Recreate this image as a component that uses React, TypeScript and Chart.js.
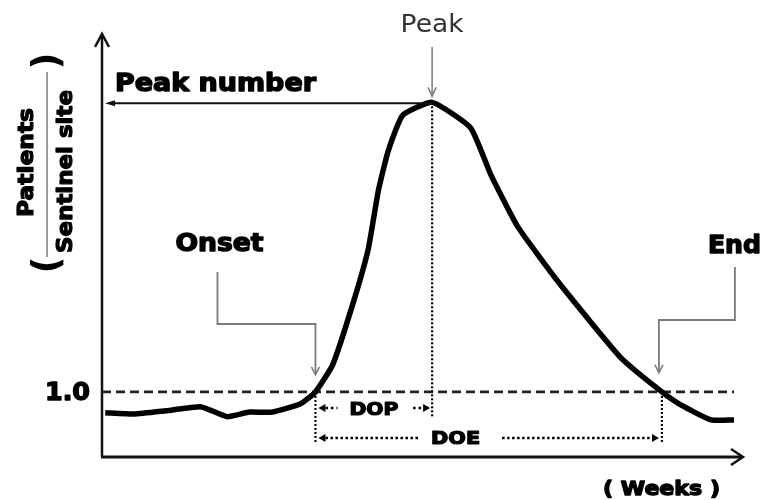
import React, { useEffect, useRef } from "react";
import { Chart, registerables } from "chart.js";

Chart.register(...registerables);

// ---- data ----
const weeks = [0.1, 1.0, 2.0, 3.1, 3.9, 4.6, 5.3, 6.2, 6.66, 7.2, 7.8, 8.3, 8.63, 8.94, 9.38, 10.3, 11.5, 12.13, 12.97, 14.3, 16.2, 17.47, 18.06, 19.0, 19.72];
const patients = [0.68, 0.66, 0.71, 0.77, 0.62, 0.69, 0.69, 0.82, 1.0, 1.42, 2.31, 3.18, 4.11, 4.72, 5.25, 5.45, 5.06, 4.34, 3.54, 2.65, 1.52, 1.0, 0.8, 0.57, 0.57];
const threshold = 1.0;
const thresholdLabel = "1.0";
const xAxisLabel = "( Weeks )";
const yNumerator = "Patients";
const yDenominator = "Sentinel site";
const peakLabel = "Peak";
const peakNumberLabel = "Peak number";
const onsetLabel = "Onset";
const endLabel = "End";
const dopLabel = "DOP";
const doeLabel = "DOE";

const BOLD = "bold";
const FAMILY = '"DejaVu Sans", "Liberation Sans", Arial, sans-serif';

function fitText(ctx: CanvasRenderingContext2D, text: string, x: number, y: number, size: number, weight: string, width: number, align: "left" | "center" | "right", color = "#000", heavy = 0) {
  ctx.save();
  ctx.font = `${weight} ${size}px ${FAMILY}`;
  ctx.fillStyle = color;
  ctx.strokeStyle = color;
  ctx.textBaseline = "alphabetic";
  ctx.textAlign = "left";
  const m = ctx.measureText(text).width;
  const sx = width / m;
  let left = x;
  if (align === "center") left = x - width / 2;
  if (align === "right") left = x - width;
  ctx.translate(left, y);
  ctx.scale(sx, 1);
  ctx.fillText(text, 0, 0);
  if (heavy > 0) {
    ctx.lineWidth = heavy;
    ctx.lineJoin = "round";
    ctx.strokeText(text, 0, 0);
  }
  ctx.restore();
}

function rotText(ctx: CanvasRenderingContext2D, text: string, baseX: number, centerY: number, size: number, length: number | null, heavy = 0) {
  ctx.save();
  ctx.font = `bold ${size}px ${FAMILY}`;
  ctx.fillStyle = "#000";
  ctx.strokeStyle = "#000";
  ctx.textAlign = "center";
  ctx.textBaseline = "alphabetic";
  ctx.translate(baseX, centerY);
  ctx.rotate(-Math.PI / 2);
  if (length) {
    const m = ctx.measureText(text).width;
    ctx.scale(length / m, 1);
  }
  ctx.fillText(text, 0, 0);
  if (heavy > 0) {
    ctx.lineWidth = heavy;
    ctx.lineJoin = "round";
    ctx.strokeText(text, 0, 0);
  }
  ctx.restore();
}

function line(ctx: CanvasRenderingContext2D, pts: number[][], color: string, w: number, dash: number[] = []) {
  ctx.save();
  ctx.strokeStyle = color;
  ctx.lineWidth = w;
  ctx.setLineDash(dash);
  ctx.lineCap = "butt";
  ctx.lineJoin = "miter";
  ctx.beginPath();
  pts.forEach((p, i) => (i ? ctx.lineTo(p[0], p[1]) : ctx.moveTo(p[0], p[1])));
  ctx.stroke();
  ctx.restore();
}

function openHead(ctx: CanvasRenderingContext2D, tx: number, ty: number, dx: number, dy: number, len: number, half: number, color: string, w: number) {
  const bx = tx - dx * len, by = ty - dy * len;
  const nx = -dy, ny = dx;
  line(ctx, [[bx + nx * half, by + ny * half], [tx, ty], [bx - nx * half, by - ny * half]], color, w);
}

function filledHead(ctx: CanvasRenderingContext2D, tx: number, ty: number, dx: number, dy: number, len: number, half: number, color: string) {
  const bx = tx - dx * len, by = ty - dy * len;
  const nx = -dy, ny = dx;
  ctx.save();
  ctx.fillStyle = color;
  ctx.beginPath();
  ctx.moveTo(tx, ty);
  ctx.lineTo(bx + nx * half, by + ny * half);
  ctx.lineTo(bx - nx * half, by - ny * half);
  ctx.closePath();
  ctx.fill();
  ctx.restore();
}

function crossings() {
  let pi = 0;
  patients.forEach((v, i) => { if (v > patients[pi]) pi = i; });
  let onset = weeks[0], end = weeks[weeks.length - 1];
  for (let i = 0; i < pi; i++) {
    if (patients[i] < threshold && patients[i + 1] >= threshold) {
      const t = (threshold - patients[i]) / (patients[i + 1] - patients[i]);
      onset = weeks[i] + t * (weeks[i + 1] - weeks[i]);
      break;
    }
  }
  for (let i = pi; i < patients.length - 1; i++) {
    if (patients[i] >= threshold && patients[i + 1] < threshold) {
      const t = (patients[i] - threshold) / (patients[i] - patients[i + 1]);
      end = weeks[i] + t * (weeks[i + 1] - weeks[i]);
      break;
    }
  }
  return { pi, onset, end };
}

const annotations = {
  id: "epiAnnotations",
  beforeDatasetsDraw(chart: any) {
    const { ctx, chartArea: ca, scales } = chart;
    const x = scales.x, y = scales.y;
    const { pi, onset, end } = crossings();
    const ty = y.getPixelForValue(threshold);
    const px = x.getPixelForValue(weeks[pi]);
    const py = y.getPixelForValue(patients[pi]);
    const ox = x.getPixelForValue(onset);
    const ex = x.getPixelForValue(end);
    const lastX = x.getPixelForValue(weeks[weeks.length - 1]);

    line(ctx, [[ca.left, ty], [lastX, ty]], "#222", 2.8, [9, 5]);
    line(ctx, [[px, py], [px, ty + 26]], "#000", 2.2, [2, 2]);
    line(ctx, [[ox, ty], [ox, ty + 51]], "#000", 2.2, [2, 2]);
    line(ctx, [[ex, ty], [ex, ty + 51]], "#000", 2.2, [2, 2]);
  },
  afterDatasetsDraw(chart: any) {
    const { ctx, chartArea: ca, scales } = chart;
    const x = scales.x, y = scales.y;
    const { pi, onset, end } = crossings();
    const ty = y.getPixelForValue(threshold);
    const px = x.getPixelForValue(weeks[pi]);
    const py = y.getPixelForValue(patients[pi]);
    const ox = x.getPixelForValue(onset);
    const ex = x.getPixelForValue(end);
    const gray = "#7a7a7a";

    // axes with arrows
    line(ctx, [[ca.left, ca.bottom], [ca.left, ca.top + 1]], "#111", 2.5);
    openHead(ctx, ca.left, ca.top, 0, -1, 13, 7, "#111", 2.5);
    line(ctx, [[ca.left - 1, ca.bottom], [ca.right - 1, ca.bottom]], "#111", 3);
    openHead(ctx, ca.right, ca.bottom, 1, 0, 12, 8, "#111", 2.5);

    // peak number arrow
    line(ctx, [[px, py + 1], [ca.left + 8, py + 1]], "#111", 2);
    filledHead(ctx, ca.left + 3, py + 1, -1, 0, 10, 3, "#111");
    fitText(ctx, peakNumberLabel, ca.left + 13, py - 11, 24, BOLD, 201, "left", "#000", 1.4);

    // peak label and arrow
    fitText(ctx, peakLabel, px, 32, 25, "normal", 63, "center", "#333");
    line(ctx, [[px, 47], [px, py - 6]], gray, 1.5);
    openHead(ctx, px, py - 6, 0, 1, 9, 4, gray, 1.5);

    // onset label + connector
    fitText(ctx, onsetLabel, ox - 140, 251, 24, BOLD, 88, "left", "#000", 1.4);
    line(ctx, [[ox - 98, 272], [ox - 98, 324], [ox, 324], [ox, ty - 18]], gray, 1.8);
    openHead(ctx, ox, ty - 17, 0, 1, 8, 4, gray, 1.5);

    // end label + connector
    fitText(ctx, endLabel, ex + 46, 253, 24, BOLD, 53, "left", "#000", 1.4);
    line(ctx, [[ex + 73, 267], [ex + 73, 320], [ex - 3, 320], [ex - 3, ty - 20]], gray, 1.8);
    openHead(ctx, ex - 3, ty - 19, 0, 1, 8, 4, gray, 1.5);

    // threshold label
    fitText(ctx, thresholdLabel, ca.left - 12, ty + 8, 24, BOLD, 45, "right", "#000", 1.4);

    // DOP
    const dopY = ty + 16;
    filledHead(ctx, ox + 3, dopY, -1, 0, 7, 4, "#000");
    line(ctx, [[ox + 10, dopY], [ox + 22, dopY]], "#000", 2.5, [2.5, 3]);
    fitText(ctx, dopLabel, ox + 34, dopY + 7, 17, BOLD, 49, "left", "#000", 1.2);
    line(ctx, [[px - 19, dopY], [px - 7, dopY]], "#000", 2.5, [2.5, 3]);
    filledHead(ctx, px - 2, dopY, 1, 0, 7, 4, "#000");

    // DOE
    const doeY = ty + 46;
    filledHead(ctx, ox + 3, doeY, -1, 0, 7, 4, "#000");
    line(ctx, [[ox + 10, doeY], [ox + 103, doeY]], "#000", 2.5, [2.5, 2.5]);
    fitText(ctx, doeLabel, px - 1, doeY + 6, 17, BOLD, 49, "left", "#000", 1.2);
    line(ctx, [[px + 70, doeY], [ex - 10, doeY]], "#000", 2.5, [2.5, 2.5]);
    filledHead(ctx, ex - 3, doeY, 1, 0, 7, 4, "#000");

    // x axis label
    fitText(ctx, xAxisLabel, 603, 495, 19, BOLD, 117, "left", "#000", 1.3);

    // y axis label: ( Patients / Sentinel site )
    rotText(ctx, yNumerator, 33, 162.5, 21, 109, 1.2);
    rotText(ctx, yDenominator, 72, 171.5, 22, 163, 1.2);
    line(ctx, [[47, 72], [47, 257]], gray, 1.5);
    rotText(ctx, ")", 59, 61, 37, null);
    rotText(ctx, "(", 59, 265, 37, null);
  },
};

export default function App() {
  const ref = useRef<HTMLCanvasElement | null>(null);
  useEffect(() => {
    document.body.style.margin = "0";
    const canvas = ref.current;
    if (!canvas) return;
    const chart = new Chart(canvas, {
      type: "line",
      data: {
        datasets: [
          {
            label: "Patients / Sentinel site",
            data: weeks.map((w, i) => ({ x: w, y: patients[i] })),
            borderColor: "#000",
            borderWidth: 5.5,
            pointRadius: 0,
            tension: 0.15,
            borderJoinStyle: "round",
            borderCapStyle: "butt",
            fill: false,
          },
        ],
      },
      options: {
        animation: false,
        responsive: false,
        devicePixelRatio: 1,
        layout: { padding: { left: 102, right: 18, top: 34, bottom: 43 } },
        plugins: { legend: { display: false }, tooltip: { enabled: false } },
        scales: {
          x: { type: "linear", min: 0, max: 20, display: false },
          y: { type: "linear", min: 0, max: 6.5, display: false },
        },
      },
      plugins: [annotations],
    });
    return () => chart.destroy();
  }, []);
  return (
    <div style={{ position: "absolute", left: 0, top: 0, width: 761, height: 500, background: "#fff" }}>
      <canvas ref={ref} width={761} height={500} style={{ width: 761, height: 500, display: "block" }} />
    </div>
  );
}
